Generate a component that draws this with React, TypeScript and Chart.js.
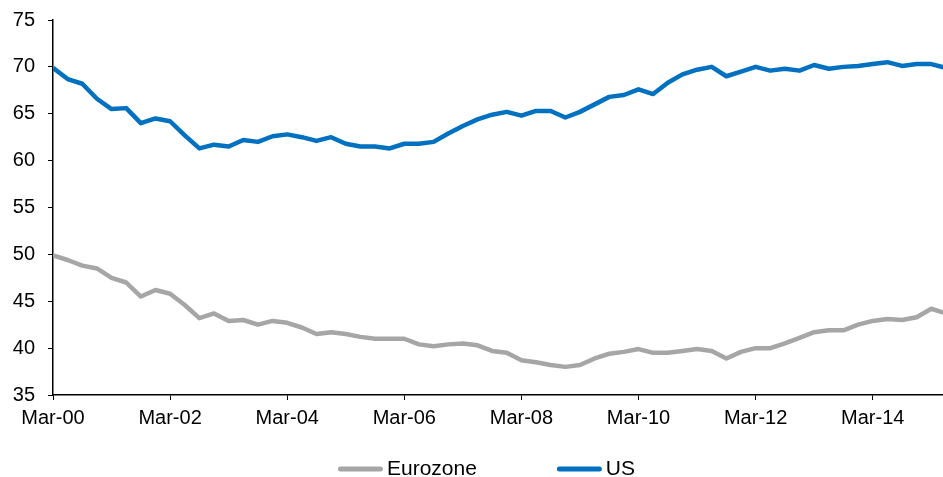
import React, { useEffect, useRef } from "react";
import { Chart, registerables } from "chart.js";

Chart.register(...registerables);

const MONTHS = ["Mar", "Jun", "Sep", "Dec"];
const quarterLabels: string[] = [];
for (let y = 0; y <= 15; y++) {
  for (const m of MONTHS) {
    quarterLabels.push(`${m}-${String(y).padStart(2, "0")}`);
  }
}

const usValues = [
  69.9, 68.7, 68.2, 66.6, 65.5, 65.6, 64.0, 64.5, 64.2, 62.7,
  61.3, 61.7, 61.5, 62.2, 62.0, 62.6, 62.8, 62.5, 62.1, 62.5,
  61.8, 61.5, 61.5, 61.3, 61.8, 61.8, 62.0, 62.9, 63.7, 64.4,
  64.9, 65.2, 64.8, 65.3, 65.3, 64.6, 65.2, 66.0, 66.8, 67.0,
  67.6, 67.1, 68.3, 69.2, 69.7, 70.0, 69.0, 69.5, 70.0, 69.6,
  69.8, 69.6, 70.2, 69.8, 70.0, 70.1, 70.3, 70.5, 70.1, 70.3,
  70.3, 69.9,
];

const eurozoneValues = [
  49.9, 49.4, 48.8, 48.5, 47.5, 47.0, 45.5, 46.2, 45.8, 44.6,
  43.2, 43.7, 42.9, 43.0, 42.5, 42.9, 42.7, 42.2, 41.5, 41.7,
  41.5, 41.2, 41.0, 41.0, 41.0, 40.4, 40.2, 40.4, 40.5, 40.3,
  39.7, 39.5, 38.7, 38.5, 38.2, 38.0, 38.2, 38.9, 39.4, 39.6,
  39.9, 39.5, 39.5, 39.7, 39.9, 39.7, 38.9, 39.6, 40.0, 40.0,
  40.5, 41.1, 41.7, 41.9, 41.9, 42.5, 42.9, 43.1, 43.0, 43.3,
  44.2, 43.7,
];

const seriesNames = ["Eurozone", "US"];
const seriesColors = ["#A6A6A6", "#0070C0"];

const FONT = "'Liberation Sans', Arial, sans-serif";

const legendPlugin = {
  id: "bottomLegend",
  afterDraw(chart: any) {
    const ctx = chart.ctx as CanvasRenderingContext2D;
    const fontSize = 21;
    const boxW = 45;
    const textGap = 4;
    const itemGap = 80;
    ctx.save();
    ctx.font = `${fontSize}px ${FONT}`;
    const items = chart.data.datasets.map((d: any) => ({
      label: d.label as string,
      color: d.borderColor as string,
      w: boxW + textGap + ctx.measureText(d.label).width,
    }));
    const total =
      items.reduce((s: number, it: any) => s + it.w, 0) + itemGap * (items.length - 1);
    let x = chart.width / 2 + 15 - total / 2;
    const y = 469;
    for (const it of items) {
      ctx.strokeStyle = it.color;
      ctx.lineWidth = 5;
      ctx.lineCap = "round";
      ctx.beginPath();
      ctx.moveTo(x + 2.5, y);
      ctx.lineTo(x + boxW - 2.5, y);
      ctx.stroke();
      ctx.fillStyle = "#000";
      ctx.textBaseline = "middle";
      ctx.textAlign = "left";
      ctx.fillText(it.label, x + boxW + textGap, y);
      x += it.w + itemGap;
    }
    ctx.restore();
  },
};

export default function App() {
  const canvasRef = useRef<HTMLCanvasElement | null>(null);

  useEffect(() => {
    if (!canvasRef.current) return;
    const toPoints = (vals: number[]) => vals.map((v, i) => ({ x: i, y: v }));
    const chart = new Chart(canvasRef.current, {
      type: "line",
      data: {
        datasets: [
          {
            label: seriesNames[0],
            data: toPoints(eurozoneValues),
            borderColor: seriesColors[0],
            backgroundColor: seriesColors[0],
            borderWidth: 4.5,
            pointRadius: 0,
            tension: 0,
            borderJoinStyle: "round",
          },
          {
            label: seriesNames[1],
            data: toPoints(usValues),
            borderColor: seriesColors[1],
            backgroundColor: seriesColors[1],
            borderWidth: 4.5,
            pointRadius: 0,
            tension: 0,
            borderJoinStyle: "round",
          },
        ],
      },
      options: {
        responsive: false,
        animation: false,
        layout: { padding: { top: 20, right: 0, bottom: 0, left: 0 } },
        plugins: {
          legend: { display: false },
          tooltip: { enabled: false },
        },
        scales: {
          x: {
            type: "linear",
            min: 0,
            max: 60.8,
            afterFit: (scale: any) => {
              scale.height = 82;
            },
            afterBuildTicks: (scale: any) => {
              scale.ticks = scale.ticks.filter(
                (t: any) => Number.isInteger(t.value) && t.value % 8 === 0
              );
            },
            ticks: {
              stepSize: 8,
              includeBounds: false,
              autoSkip: false,
              maxRotation: 0,
              color: "#000",
              padding: 6,
              font: { family: FONT, size: 20 },
              callback: (v: any) => quarterLabels[Number(v)] ?? "",
            },
            grid: {
              display: true,
              drawOnChartArea: false,
              drawTicks: true,
              tickLength: 5,
              color: "#000",
              lineWidth: 1,
            },
            border: { display: true, color: "#000", width: 1.5 },
          },
          y: {
            min: 35,
            max: 75,
            afterFit: (scale: any) => {
              scale.width = 53;
              scale.paddingTop = 0;
              scale.paddingBottom = 0;
            },
            ticks: {
              stepSize: 5,
              color: "#000",
              padding: 13,
              font: { family: FONT, size: 20 },
            },
            grid: {
              display: true,
              drawOnChartArea: false,
              drawTicks: true,
              tickLength: 5,
              color: "#000",
              lineWidth: 1,
            },
            border: { display: true, color: "#000", width: 1.5 },
          },
        },
      },
      plugins: [legendPlugin],
    });
    return () => chart.destroy();
  }, []);

  return (
    <canvas
      ref={canvasRef}
      width={943}
      height={477}
      style={{ position: "absolute", left: 0, top: 0, width: 943, height: 477 }}
    />
  );
}
